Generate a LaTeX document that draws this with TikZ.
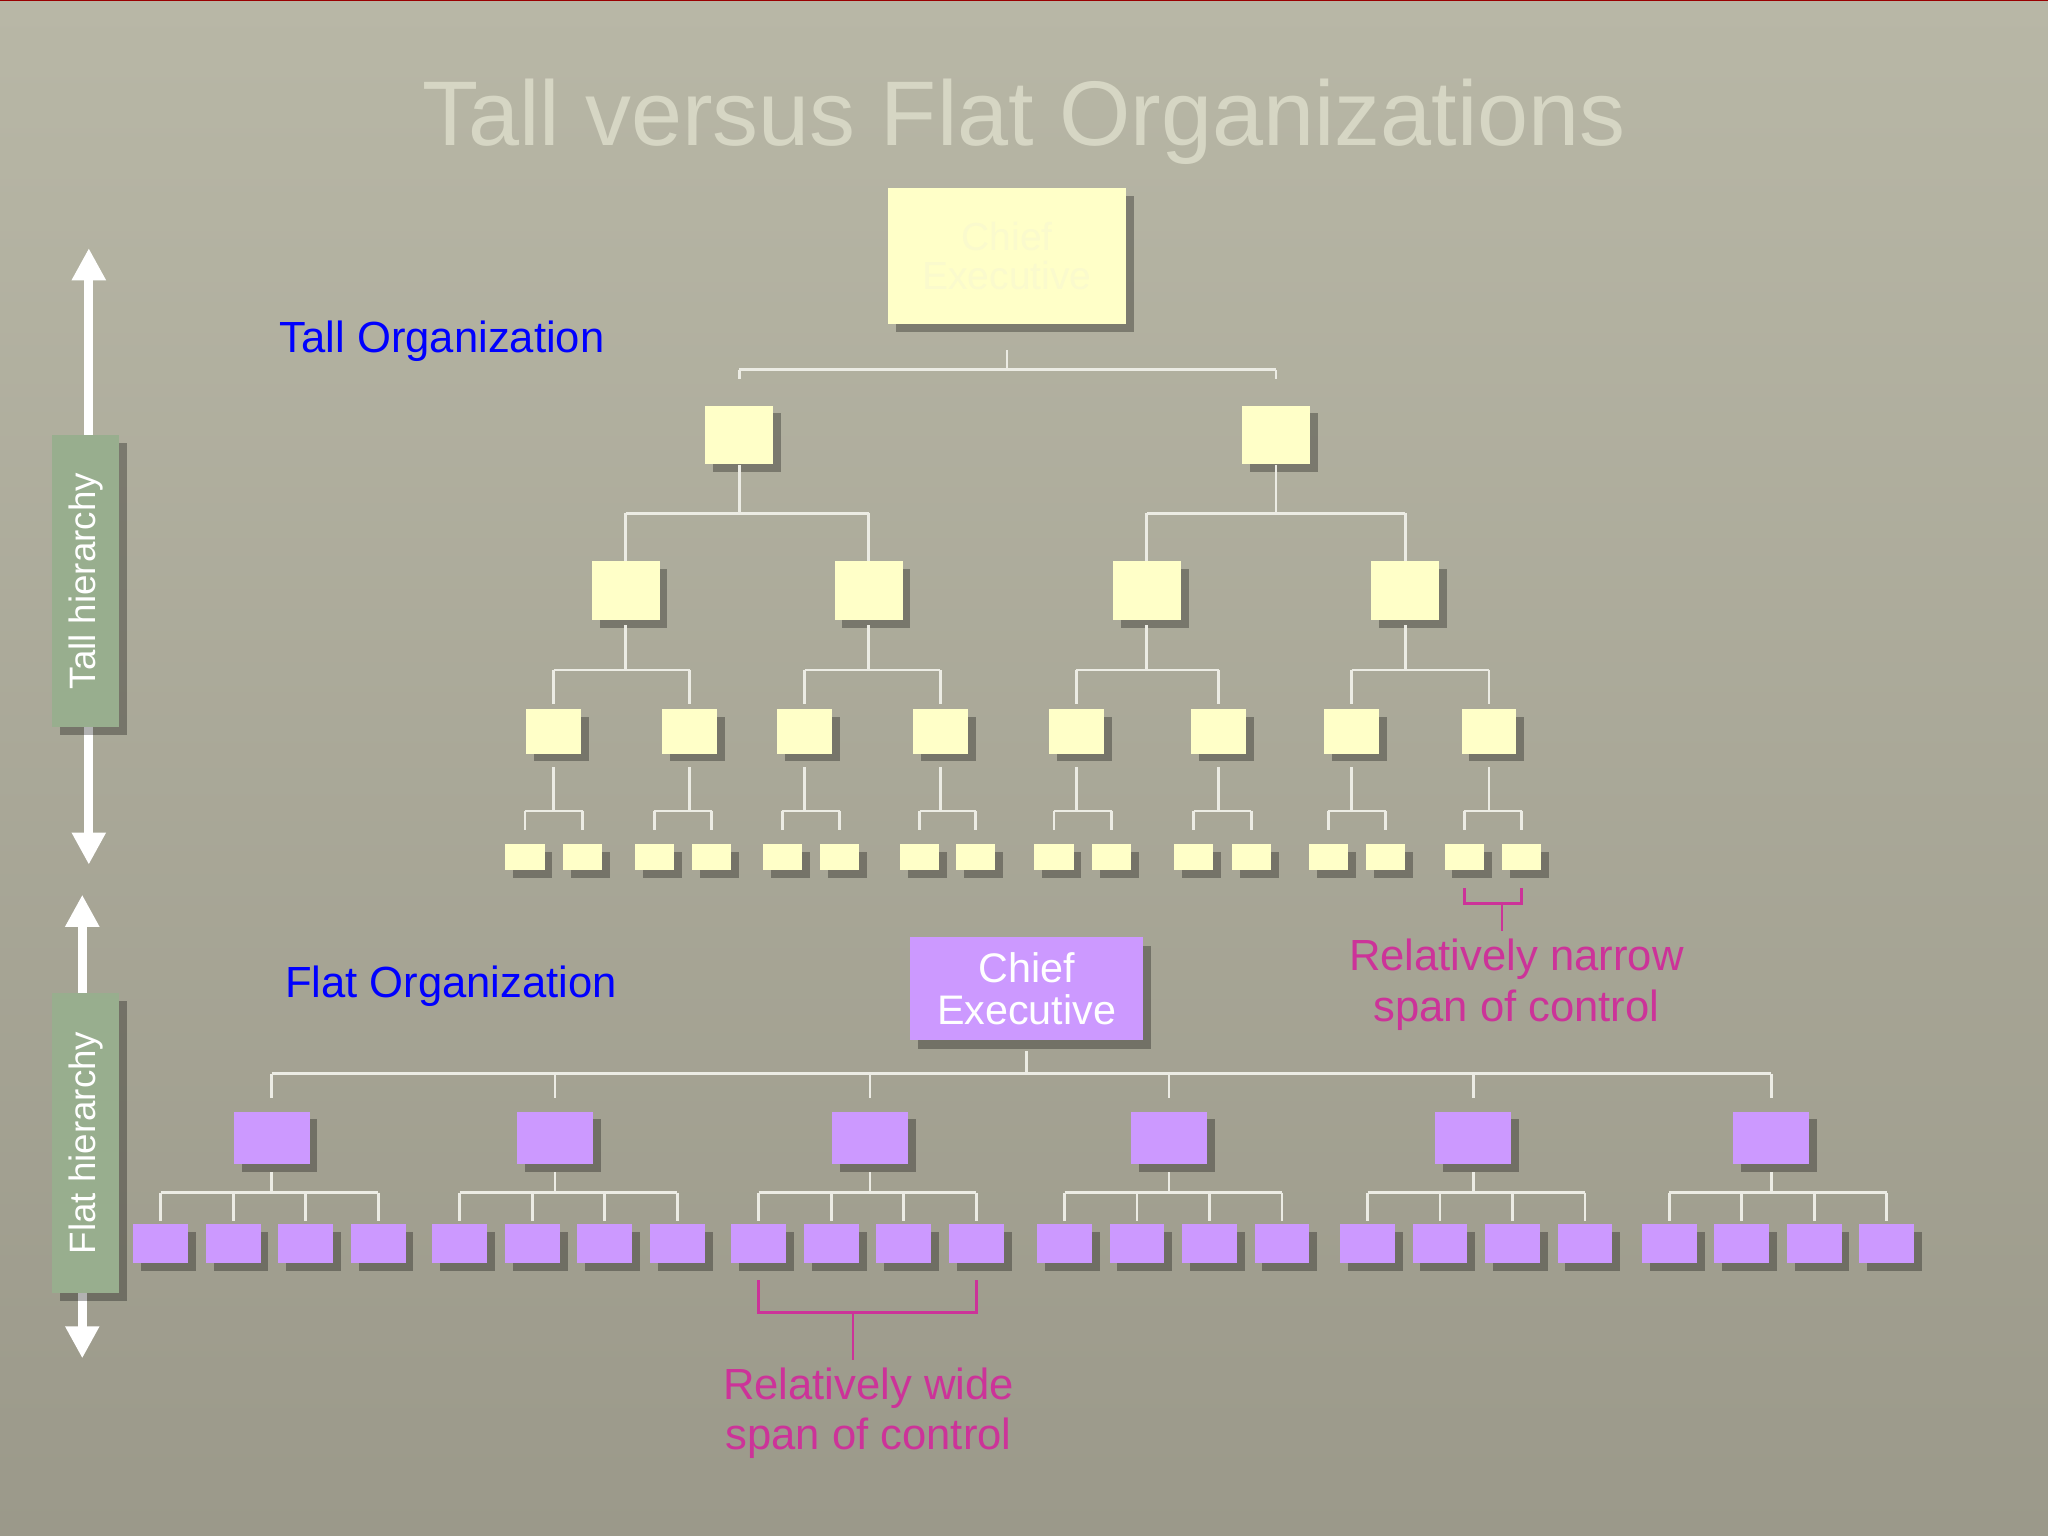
\documentclass[tikz,border=0pt]{standalone}
\usepackage{fontspec}
\setmainfont{Liberation Sans}
\usetikzlibrary{arrows.meta}
\definecolor{ybox}{HTML}{FFFFC8}
\definecolor{pbox}{HTML}{CC99FF}
\definecolor{ln}{HTML}{ECECE4}
\definecolor{mag}{HTML}{CC3399}
\definecolor{gbox}{HTML}{98AE8E}
\definecolor{bgtop}{HTML}{B8B7A6}
\definecolor{bgbot}{HTML}{9B998A}
\begin{document}
\begin{tikzpicture}[x=0.02cm,y=-0.02cm,
  yb/.style={fill=ybox,draw=none,inner sep=0pt},
  pb/.style={fill=pbox,draw=none,inner sep=0pt},
  shad/.style={fill=black,opacity=0.3},
  con/.style={draw=ln,line width=1.2pt},
  brk/.style={draw=mag,line width=1.2pt},
  ann/.style={text=mag,font=\fontsize{19}{22}\selectfont,align=center},
  lbl/.style={text=blue,font=\fontsize{19}{22}\selectfont,anchor=west},
  hier/.style={fill=gbox,text=white,font=\fontsize{16}{18}\selectfont,rotate=90,inner sep=0pt}]
\shade[top color=bgtop,bottom color=bgbot] (0,0) rectangle (1568,1176);
\useasboundingbox (0,0) rectangle (1568,1176);
\draw[red!60!black,line width=0.6pt] (0,0.5) -- (1568,0.5);
\node (title) [text={rgb,255:red,214;green,214;blue,196},font=\fontsize{40}{44}\selectfont] at (784,93) {Tall versus Flat Organizations};
% box macro: name, cx, cy, w, h, style
\newcommand\bx[6]{\fill[shad] (#2-#4/2+6,#3-#5/2+6) rectangle (#2+#4/2+6,#3+#5/2+6);
  \node[#6,minimum width=#4*0.02cm,minimum height=#5*0.02cm] (#1) at (#2,#3) {};}
% ---- Tall ----
\fill[shad] (686,150) rectangle (868,254);
\node[yb,minimum width=3.64cm,minimum height=2.08cm,text={rgb,255:red,250;green,250;blue,205},font=\fontsize{17}{17}\selectfont,align=center] (tce) at (771,196) {Chief\\Executive};
\foreach \n/\x in {a/566,b/977}{\bx{t1\n}{\x}{333}{52}{45}{yb}}
\foreach \n/\x in {a/479,b/665,c/878,d/1076}{\bx{t2\n}{\x}{452}{52}{45}{yb}}
\foreach \n/\x in {a/424,b/528,c/616,d/720,e/824,f/933,g/1035,h/1140}{\bx{t3\n}{\x}{560}{42}{34}{yb}}
\foreach \n/\x in {1/402,2/446,3/501,4/545,5/599,6/643,7/704,8/747,9/807,10/851,11/914,12/958,13/1017,14/1061,15/1121,16/1165}{\bx{t4n\n}{\x}{656}{30}{20}{yb}}
% connectors
\newcommand\tree[5]{% parent, child1, child2, ybar, gap
  \draw[con] ([yshift=-#5*0.02cm]#1.south) -- (#1|-0,#4);
  \draw[con] (#2|-0,#4) -- (#3|-0,#4);
  \draw[con] (#2|-0,#4) -- ([yshift=#5*0.02cm]#2.north);
  \draw[con] (#3|-0,#4) -- ([yshift=#5*0.02cm]#3.north);}
\tree{tce}{t1a}{t1b}{283}{20}
\tree{t1a}{t2a}{t2b}{393}{0}
\tree{t1b}{t2c}{t2d}{393}{0}
\tree{t2a}{t3a}{t3b}{513}{4}
\tree{t2b}{t3c}{t3d}{513}{4}
\tree{t2c}{t3e}{t3f}{513}{4}
\tree{t2d}{t3g}{t3h}{513}{4}
\foreach \p/\i/\j in {a/1/2,b/3/4,c/5/6,d/7/8,e/9/10,f/11/12,g/13/14,h/15/16}{\tree{t3\p}{t4n\i}{t4n\j}{621}{10}}
% narrow bracket
\draw[brk] (t4n15.south|-0,680) -- (t4n15.south|-0,692) -- (t4n16.south|-0,692) -- (t4n16.south|-0,680);
\coordinate (nb) at (1150,692);
\node[ann] (narrow) at (1161,754) {Relatively narrow\\span of control};
\draw[brk] (nb) -- (narrow.north-|nb);
% ---- Flat ----
\fill[shad] (703,724) rectangle (881,803);
\node[pb,minimum width=3.56cm,minimum height=1.58cm,text=white,font=\fontsize{18}{18}\selectfont,align=center] (fce) at (786,757) {Chief\\Executive};
\foreach \n/\x in {1/208,2/425,3/666,4/895,5/1128,6/1356}{\bx{f\n}{\x}{871}{58}{40}{pb}}
\draw[con] ([yshift=-8*0.02cm]fce.south) -- (fce|-0,822);
\draw[con] (f1|-0,822) -- (f6|-0,822);
\foreach \n in {1,...,6}{\draw[con] (f\n|-0,822) -- ([yshift=10*0.02cm]f\n.north);}
\foreach \g/\x in {1/123,2/352,3/581,4/815,5/1047,6/1278}{
  \foreach \k in {0,...,3}{\bx{fc\g\k}{\x+\k*55.5}{952}{42}{30}{pb}}
  \draw[con] ([yshift=-6*0.02cm]f\g.south) -- (f\g|-0,913);
  \draw[con] (fc\g0|-0,913) -- (fc\g3|-0,913);
  \foreach \k in {0,...,3}{\draw[con] (fc\g\k|-0,913) -- ([yshift=2*0.02cm]fc\g\k.north);}
}
% wide bracket
\draw[brk] (fc30.south|-0,980) -- (fc30.south|-0,1005) -- (fc33.south|-0,1005) -- (fc33.south|-0,980);
\coordinate (wb) at (653,1005);
\node[ann] (wide) at (665,1082) {Relatively wide\\span of control};
\draw[brk] (wb) -- (wide.north-|wb);
% labels
\node[lbl] (tl) at (208,261) {Tall Organization};
\node[lbl] (fl) at (212,755) {Flat Organization};
% hierarchy arrows
\coordinate (ta) at (68,190); \coordinate (tb) at (68,662);
\draw[white,line width=4pt,{Triangle[width=14pt,length=14pt]}-{Triangle[width=14pt,length=14pt]}] (ta) -- (tb);
\fill[shad] (46,339) rectangle (97,563);
\node[hier,minimum width=4.48cm,minimum height=1.02cm] (th) at (65.5,445) {Tall hierarchy};
\coordinate (fa) at (63,685); \coordinate (fb) at (63,1040);
\draw[white,line width=4pt,{Triangle[width=14pt,length=14pt]}-{Triangle[width=14pt,length=14pt]}] (fa) -- (fb);
\fill[shad] (46,766) rectangle (97,996);
\node[hier,minimum width=4.6cm,minimum height=1.02cm] (fh) at (65.5,875) {Flat hierarchy};
\end{tikzpicture}
\end{document}
